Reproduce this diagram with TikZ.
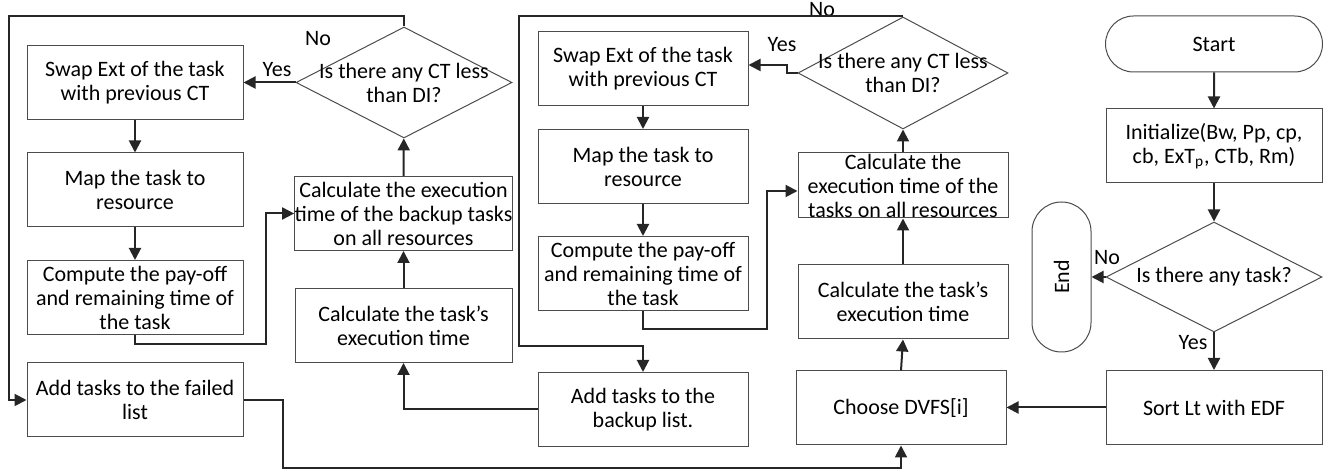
\documentclass[tikz,border=0pt]{standalone}
\usepackage{fontspec}
\setmainfont{Carlito}
\usetikzlibrary{shapes.geometric,shapes.misc,arrows.meta}
\begin{document}
\begin{tikzpicture}[x=0.5pt,y=-0.5pt,font=\fontsize{11}{12}\selectfont,
    box/.style={draw=black!70,line width=0.5pt,minimum width=108pt,minimum height=37pt,align=center,inner sep=0pt},
    ask/.style={draw=black!70,line width=0.5pt,diamond,inner sep=0pt,minimum width=108pt,minimum height=55.5pt},
    term/.style={draw=black!70,line width=0.5pt,rounded rectangle,inner sep=0pt},
    flow/.style={line width=1pt,draw=black!85,-{Triangle[length=6pt,width=6pt]}},
    tag/.style={inner sep=0pt}]
        \useasboundingbox (0,0) rectangle (1333,474);
        % right column
        \node[term,minimum width=108.5pt,minimum height=28pt] (start) at (1214,44) {Start};
        \node[box] (init) at (1214,146) {Initialize(Bw, Pp, cp,\\cb, ExT\textsubscript{p}, CTb, Rm)};
        \node[ask,minimum height=55pt] (any) at (1214,277) {};
        \node[tag] (anytxt) at (any.center) {Is there any task?};
        \node[term,rotate=90,minimum width=75pt,minimum height=29.5pt] (end) at (1061.5,277) {End};
        \node[box] (sort) at (1214,407.5) {Sort Lt with EDF};
        \node[tag] (no3) at (1107,258) {No};
        \node[tag] (yes3) at (1193,343) {Yes};
        % middle column
        \node[box,minimum width=105pt] (dvfs) at (901,408) {Choose DVFS[i]};
        \node[box,minimum width=105pt] (timeB) at (903,302) {Calculate the task's\\execution time};
        \node[box,minimum width=105pt,minimum height=32.5pt] (allB) at (903,185.5) {Calculate the\\execution time of the\\tasks on all resources};
        \node[ask,minimum width=105pt,minimum height=56pt] (askB) at (903,73) {};
        \node[tag,align=center] (askBtxt) at (askB.center) {Is there any CT less\\than DI?};
        \node[box,minimum width=105pt] (swapB) at (643,69) {Swap Ext of the task\\with previous CT};
        \node[box,minimum width=105pt] (mapB) at (643,166.5) {Map the task to\\resource};
        \node[box,minimum width=105pt] (payB) at (643,273.5) {Compute the pay-off\\and remaining time of\\the task};
        \node[box,minimum width=105pt] (backupB) at (643,409.5) {Add tasks to the\\backup list.};
        \node[tag] (yes2) at (782,45) {Yes};
        \node[tag] (no2) at (822,10) {No};
        % left column
        \node[box,minimum width=108.5pt] (timeA) at (403.5,325.5) {Calculate the task's\\execution time};
        \node[box,minimum width=108.5pt] (backA) at (403.5,213.5) {Calculate the execution\\time of the backup tasks\\on all resources};
        \node[ask] (askA) at (404,82.5) {};
        \node[tag,align=center] (askAtxt) at (askA.center) {Is there any CT less\\than DI?};
        \node[box] (swapA) at (135,82.5) {Swap Ext of the task\\with previous CT};
        \node[box] (mapA) at (135,190) {Map the task to\\resource};
        \node[box] (payA) at (135,297.5) {Compute the pay-off\\and remaining time of\\the task};
        \node[box] (failA) at (135,400) {Add tasks to the failed\\list};
        \node[tag] (yes1) at (277,70) {Yes};
        \node[tag] (no1) at (318,39) {No};
        % bends
        \coordinate (yesB) at (787,65);
        \coordinate (noB) at (519,346);
        \coordinate (noA) at (9,16);
        \coordinate (lowA) at (283,468);

        \draw[flow] (start) -- (init);
        \draw[flow] (init) -- (any);
        \draw[flow] (any.west) -- (end.south);
        \draw[flow] (any.south) -- (sort.north);
        \draw[flow] (sort.west) -- (sort.west -| dvfs.east);
        \draw[flow] (dvfs.north) -- (timeB.south);
        \draw[flow] (timeB) -- (allB);
        \draw[flow] (allB) -- (askB);
        \draw[flow] (askB.west) -| (yesB) -- (yesB -| swapB.east);
        \draw[flow] (swapB) -- (mapB);
        \draw[flow] (mapB) -- (payB);
        \draw[flow] (payB.south) -- ++(0,18) -| ([xshift=-15.5pt,yshift=-2.75pt]allB.west) -- ([yshift=-2.75pt]allB.west);
        \draw[flow] (askB.north) -| (noB) -| (backupB.north);
        \draw[flow] (backupB.west) -| (timeA.south);
        \draw[flow] (timeA) -- (backA);
        \draw[flow] (backA) -- (askA);
        \draw[flow] (askA.west) -- (swapA.east);
        \draw[flow] (swapA) -- (mapA);
        \draw[flow] (mapA) -- (payA);
        \draw[flow] (payA.south) -- ++(0,9) -| ([xshift=-14pt]backA.west) -- (backA.west);
        \draw[flow] (askA.north) |- (noA) |- (failA.west);
        \draw[flow] (failA.east) -| (lowA) -| (dvfs.south);
    \end{tikzpicture}
\end{document}
